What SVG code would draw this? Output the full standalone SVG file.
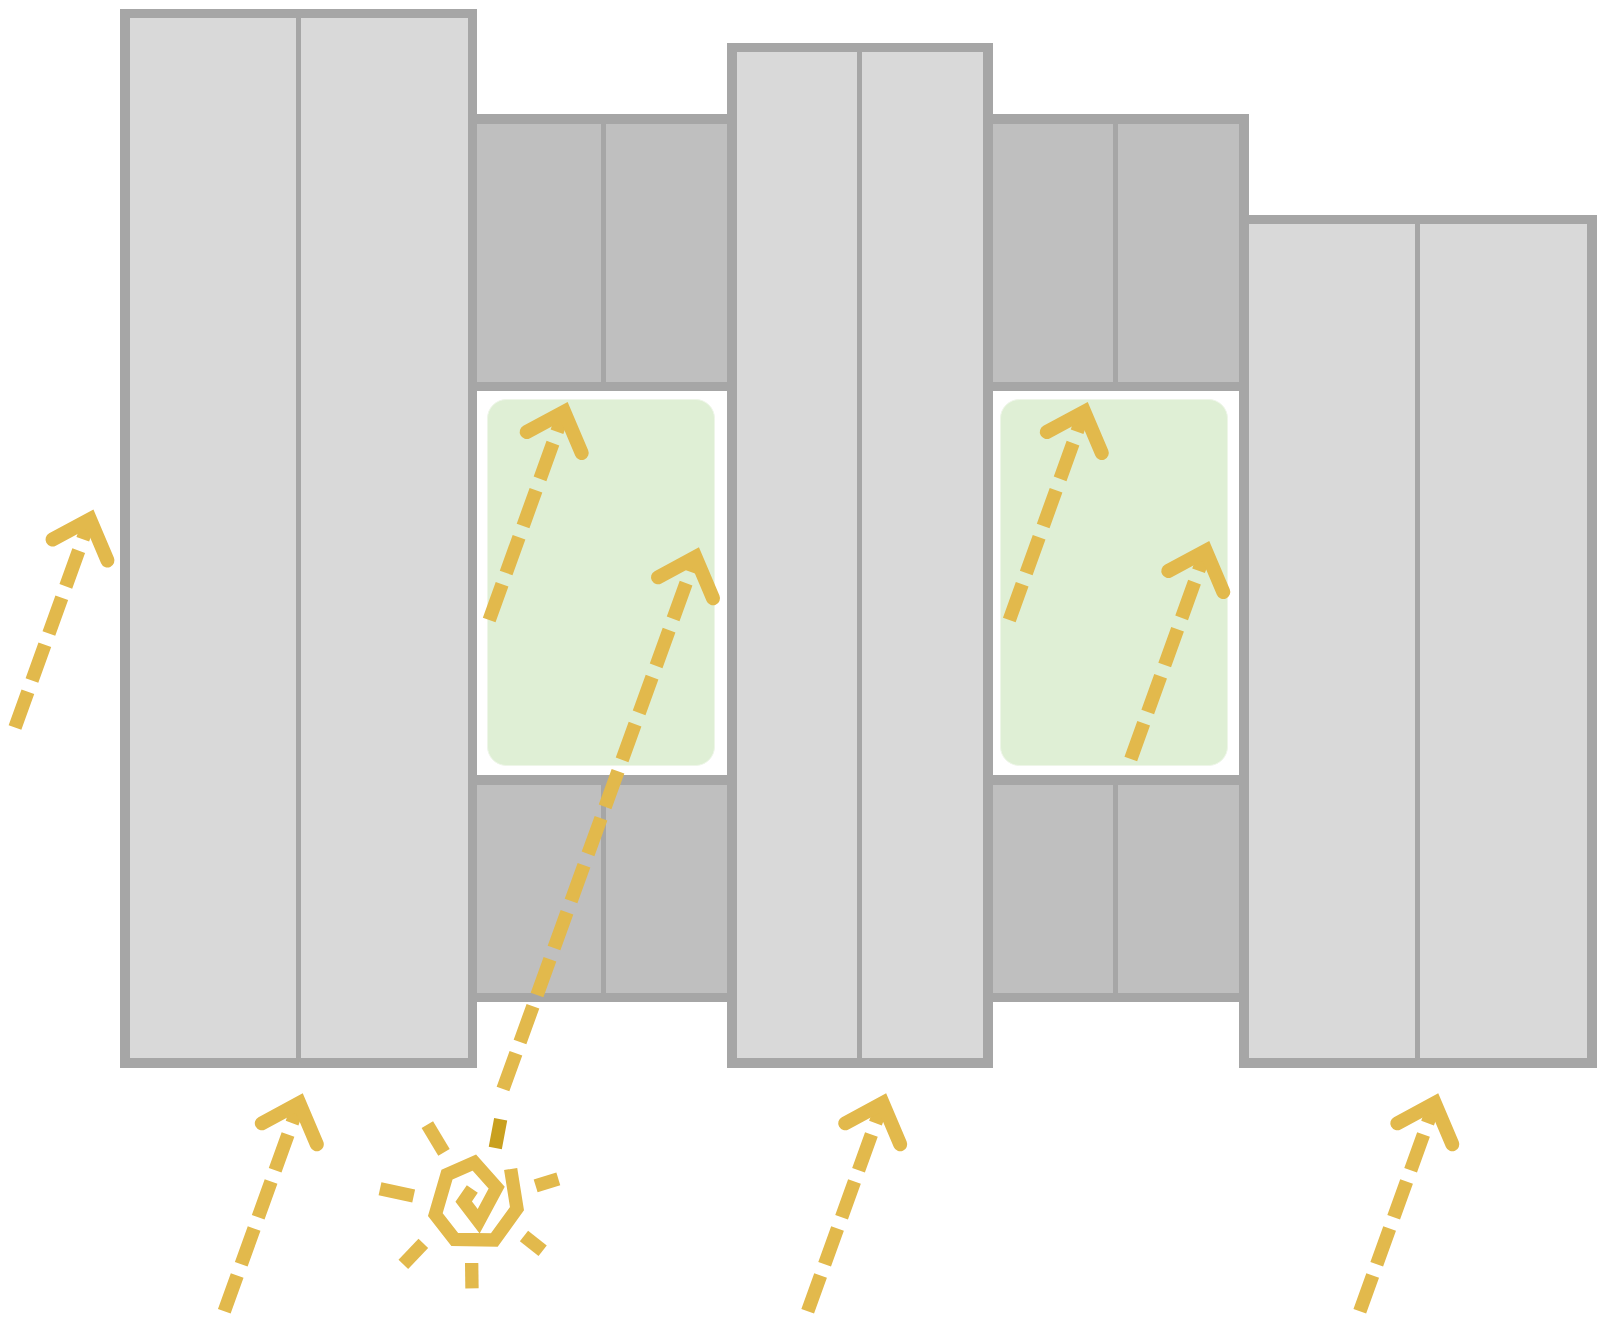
<svg xmlns="http://www.w3.org/2000/svg" xmlns:xlink="http://www.w3.org/1999/xlink" width="1614" height="1335" viewBox="0 0 1614 1335">
<style>
.frame{fill:#a6a6a6}
.light{fill:#d9d9d9}
.dark{fill:#bfbfbf}
.gap{fill:#ffffff}
.zone{fill:#dfefd5;stroke:#eef6e8;stroke-width:1}
.dash{fill:none;stroke:#e2b94c;stroke-width:13.5;stroke-dasharray:38 12}
.head{fill:none;stroke:#e2b94c;stroke-width:14;stroke-linecap:round;stroke-linejoin:miter;stroke-miterlimit:10}
.ray{fill:none;stroke:#e2b94c;stroke-width:40}
.ray-top{fill:none;stroke:#c9a01f;stroke-width:40}
.spiral{fill:none;stroke:#e2b94c;stroke-width:40;stroke-linejoin:miter;stroke-miterlimit:6}
</style>
<defs>
<g id="arrow">
<path class="dash" d="M0 0L75.5 -209.6"/>
<path class="head" d="M37.5 -188L75 -208.2L92.5 -167"/>
</g>
</defs>
<rect width="1614" height="1335" fill="#ffffff"/>
<g id="bay-1">
<rect class="frame" x="477" y="114" width="250" height="888"/>
<rect class="dark" x="477" y="124" width="124" height="258"/>
<rect class="dark" x="606" y="124" width="121" height="258"/>
<rect class="gap" x="477" y="391" width="250" height="384"/>
<rect class="dark" x="477" y="785" width="124" height="208"/>
<rect class="dark" x="606" y="785" width="121" height="208"/>
</g>
<g id="bay-2">
<rect class="frame" x="993" y="114" width="256" height="888"/>
<rect class="dark" x="993" y="124" width="120" height="258"/>
<rect class="dark" x="1118" y="124" width="121" height="258"/>
<rect class="gap" x="993" y="391" width="246" height="384"/>
<rect class="dark" x="993" y="785" width="120" height="208"/>
<rect class="dark" x="1118" y="785" width="121" height="208"/>
</g>
<g id="tower-1">
<rect class="frame" x="120" y="9" width="357" height="1059"/>
<rect class="light" x="130" y="18" width="166" height="1040"/>
<rect class="light" x="301" y="18" width="167" height="1040"/>
</g>
<g id="tower-2">
<rect class="frame" x="727" y="43" width="266" height="1025"/>
<rect class="light" x="737" y="52" width="120" height="1006"/>
<rect class="light" x="862" y="52" width="121" height="1006"/>
</g>
<g id="tower-3">
<rect class="frame" x="1239" y="215" width="358" height="853"/>
<rect class="light" x="1249" y="224" width="166" height="834"/>
<rect class="light" x="1420" y="224" width="167" height="834"/>
</g>
<g id="zone-1"><rect class="zone" x="487.5" y="399.5" width="227" height="366" rx="19"/></g>
<g id="zone-2"><rect class="zone" x="1000.5" y="399.5" width="227" height="366" rx="19"/></g>
<g id="sun" transform="translate(360 1080) scale(0.3333)">
<path class="spiral" d="M452 267L471 386L403 480L284 478L226 404L261 284L343 248L410 323L356 424L311 365L337 327"/>
<path class="ray" d="M202 134L252 217"/>
<path class="ray" d="M60 326L161 348"/>
<path class="ray" d="M190 490L130 553"/>
<path class="ray" d="M335 549L336 625"/>
<path class="ray" d="M492 468L548 512"/>
<path class="ray" d="M527 318L595 297"/>
<path class="ray-top" d="M422 118L406 204"/>
</g>
<g id="connectors">
<use xlink:href="#arrow" href="#arrow" transform="translate(15 727.5)"/>
<use xlink:href="#arrow" href="#arrow" transform="translate(224.3 1311.3)"/>
<use xlink:href="#arrow" href="#arrow" transform="translate(489.2 620)"/>
<use xlink:href="#arrow" href="#arrow" transform="translate(1009.3 620)"/>
<use xlink:href="#arrow" href="#arrow" transform="translate(1130.8 759)"/>
<use xlink:href="#arrow" href="#arrow" transform="translate(807.7 1311.3)"/>
<use xlink:href="#arrow" href="#arrow" transform="translate(1359.8 1311.3)"/>
<path class="dash" d="M503 1089L696 555.7"/>
<path class="head" d="M658 577.3L695.5 557.1L713 598.3"/>
</g>
</svg>
